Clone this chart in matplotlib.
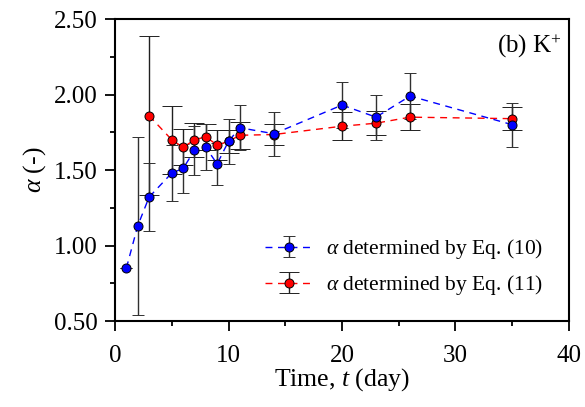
import numpy as np
import matplotlib
matplotlib.use("Agg")
import matplotlib.pyplot as plt

plt.rcParams['font.family'] = ['Liberation Serif', 'DejaVu Serif']
plt.rcParams['mathtext.fontset'] = 'custom'
plt.rcParams['mathtext.rm'] = 'Liberation Serif'
plt.rcParams['mathtext.it'] = 'Liberation Serif:italic'

# alpha from Eq. (10)
t_10 = [1, 2, 3, 5, 6, 7, 8, 9, 10, 11, 14, 20, 23, 26, 35]
a_10 = [0.85, 1.13, 1.32, 1.48, 1.51, 1.63, 1.65, 1.54, 1.69, 1.78, 1.74, 1.93, 1.85, 1.99, 1.80]
e_10 = [0.0, 0.59, 0.224, 0.183, 0.16, 0.16, 0.153, 0.14, 0.148, 0.148, 0.145, 0.15, 0.149, 0.155, 0.145]

# alpha from Eq. (11)
t_11 = [3, 5, 6, 7, 8, 9, 10, 11, 14, 20, 23, 26, 35]
a_11 = [1.86, 1.70, 1.65, 1.70, 1.72, 1.665, 1.69, 1.73, 1.735, 1.79, 1.81, 1.85, 1.84]
e_11 = [0.525, 0.227, 0.12, 0.114, 0.085, 0.10, 0.075, 0.09, 0.072, 0.094, 0.08, 0.088, 0.077]

fig = plt.figure(figsize=(5.85, 4.07), dpi=100)
ax = fig.add_axes([0.1966, 0.2113, 0.776, 0.742])

h11 = ax.errorbar(t_11, a_11, yerr=e_11, fmt='o', ls=(0, (5, 4)), color='red',
                  mfc='red', mec='black', mew=0.7, ms=6.5, lw=1.0,
                  ecolor='#202020', elinewidth=1.0, capsize=7.5, capthick=1.0)
h10 = ax.errorbar(t_10, a_10, yerr=e_10, fmt='o', ls=(0, (5, 4)), color='blue',
                  mfc='blue', mec='black', mew=0.7, ms=6.5, lw=1.0,
                  ecolor='#303030', elinewidth=1.0, capsize=4, capthick=1.0)

ax.set_xlim(0, 40)
ax.set_ylim(0.5, 2.5)
ax.set_xticks([0, 10, 20, 30, 40])
ax.set_xticks(np.arange(5, 40, 10), minor=True)
ax.set_yticks(np.arange(0.5, 2.51, 0.5))
ax.set_yticks(np.arange(0.75, 2.5, 0.5), minor=True)
ax.set_yticklabels(['%.2f' % v for v in np.arange(0.5, 2.51, 0.5)])

for s in ax.spines.values():
    s.set_linewidth(1.5)
ax.tick_params(which='major', direction='out', length=7, width=1.3, labelsize=18)
ax.tick_params(which='minor', direction='out', length=3.5, width=1.3)
ax.tick_params(axis='x', which='major', pad=10)
ax.tick_params(axis='y', which='major', pad=5.5)

ax.set_xlabel('Time, $t$ (day)', fontsize=18.5, labelpad=0)
ax.set_ylabel(r'$\alpha$ (-)', fontsize=18.5, labelpad=4)

ax.text(0.985, 0.91, '(b) K$^{+}$', transform=ax.transAxes, ha='right', va='center', fontsize=18)

ax.legend([h10, h11], [r'$\alpha$ determined by Eq. (10)', r'$\alpha$ determined by Eq. (11)'],
          loc='lower right', bbox_to_anchor=(0.985, 0.015), frameon=False, fontsize=15.5,
          handlelength=2.2, handletextpad=0.6, labelspacing=0.55)

fig.savefig('out.png', dpi=100)
